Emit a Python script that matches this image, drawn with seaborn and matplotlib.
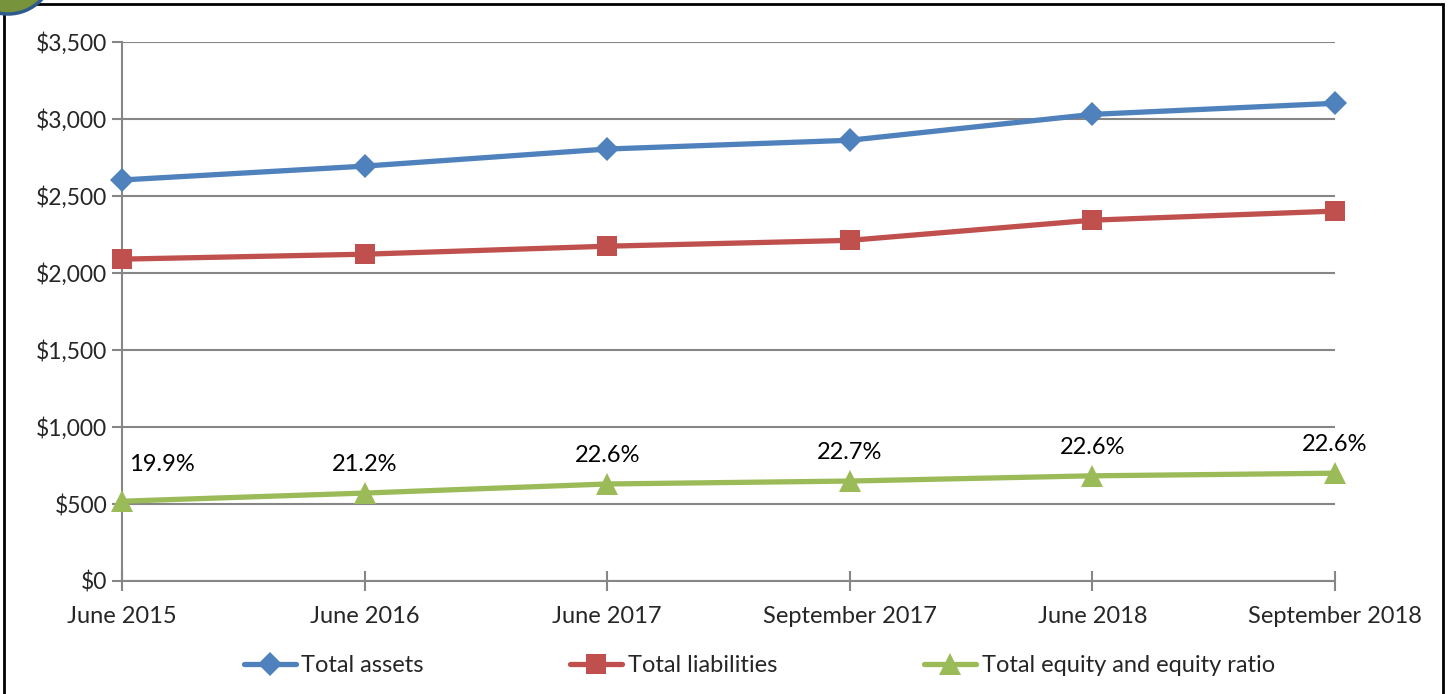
import matplotlib
matplotlib.use("Agg")
import matplotlib.pyplot as plt
import seaborn as sns
import pandas as pd
from matplotlib.patches import Rectangle, Circle
from matplotlib.lines import Line2D

periods = ["June 2015", "June 2016", "June 2017", "September 2017", "June 2018", "September 2018"]
total_assets = [2604, 2694, 2805, 2862, 3030, 3102]
total_liabilities = [2090, 2122, 2174, 2212, 2343, 2402]
total_equity = [518, 571, 630, 649, 683, 700]
equity_ratio = ["19.9%", "21.2%", "22.6%", "22.7%", "22.6%", "22.6%"]

sns.set_theme(style="white")
plt.rcParams["font.family"] = ["Lato", "DejaVu Sans"]

W, H = 1449, 694
fig = plt.figure(figsize=(W / 100, H / 100), dpi=100)
ax = fig.add_axes([122 / W, (H - 581) / H, (1335 - 122) / W, (581 - 42) / H])

df = pd.DataFrame({
    "period": periods * 3,
    "value": total_assets + total_liabilities + total_equity,
    "series": ["Total assets"] * 6 + ["Total liabilities"] * 6 + ["Total equity and equity ratio"] * 6,
})

colors = {"Total assets": "#4F81BD", "Total liabilities": "#C0504D",
          "Total equity and equity ratio": "#9BBB59"}
markers = {"Total assets": "D", "Total liabilities": "s", "Total equity and equity ratio": "^"}
msizes = {"Total assets": 12, "Total liabilities": 14, "Total equity and equity ratio": 16}

for name in colors:
    sub = df[df["series"] == name]
    sns.lineplot(data=sub, x="period", y="value", ax=ax, color=colors[name],
                 marker=markers[name], markersize=msizes[name], markeredgewidth=0,
                 linewidth=3.8, sort=False, legend=False, clip_on=False, zorder=3)

for i, (v, lab) in enumerate(zip(total_equity, equity_ratio)):
    dx = 40 if i == 0 else 0
    dy = 26 if i == 0 else 18
    ax.annotate(lab, (i, v), xytext=(dx, dy), textcoords="offset pixels",
                ha="center", va="bottom", fontsize=17, color="black")

ax.set_xlim(0, len(periods) - 1)
ax.set_ylim(0, 3500)
ax.set_yticks(range(0, 3501, 500))
ax.set_yticklabels([f"${v:,}" for v in range(0, 3501, 500)])
ax.set_xlabel("")
ax.set_ylabel("")
ax.grid(axis="y", color="#868686", linewidth=1.5)
ax.grid(axis="x", visible=False)
for s in ["top", "right"]:
    ax.spines[s].set_visible(False)
for s in ["left", "bottom"]:
    ax.spines[s].set_color("#868686")
    ax.spines[s].set_linewidth(1.5)
ax.tick_params(axis="y", direction="out", length=7, width=1.5, color="#868686",
               labelsize=16.5, pad=3.5, left=True)
ax.tick_params(axis="x", direction="inout", length=14, width=1.5, color="#868686",
               labelsize=17, pad=11, bottom=True)

handles = [Line2D([0], [0], color=colors[n], marker=markers[n], markersize=msizes[n],
                  markeredgewidth=0, linewidth=3.8) for n in colors]
fig.legend(handles, list(colors.keys()), loc="center", bbox_to_anchor=(0.524, (H - 666) / H),
           ncol=3, frameon=False, fontsize=17, handlelength=2.2, handletextpad=0.25,
           columnspacing=6.2)

fig.patches.append(Rectangle((4 / W, -0.05), (1443 - 4) / W, 1.05 - 4 / H,
                             transform=fig.transFigure, fill=False, edgecolor="black",
                             linewidth=2, zorder=10))
fig.patches.append(Circle((8, H + 32), 46, transform=None, facecolor="#77933C",
                          edgecolor="#2E5A8E", linewidth=2.5, zorder=11))

fig.savefig("out.png", dpi=100)
